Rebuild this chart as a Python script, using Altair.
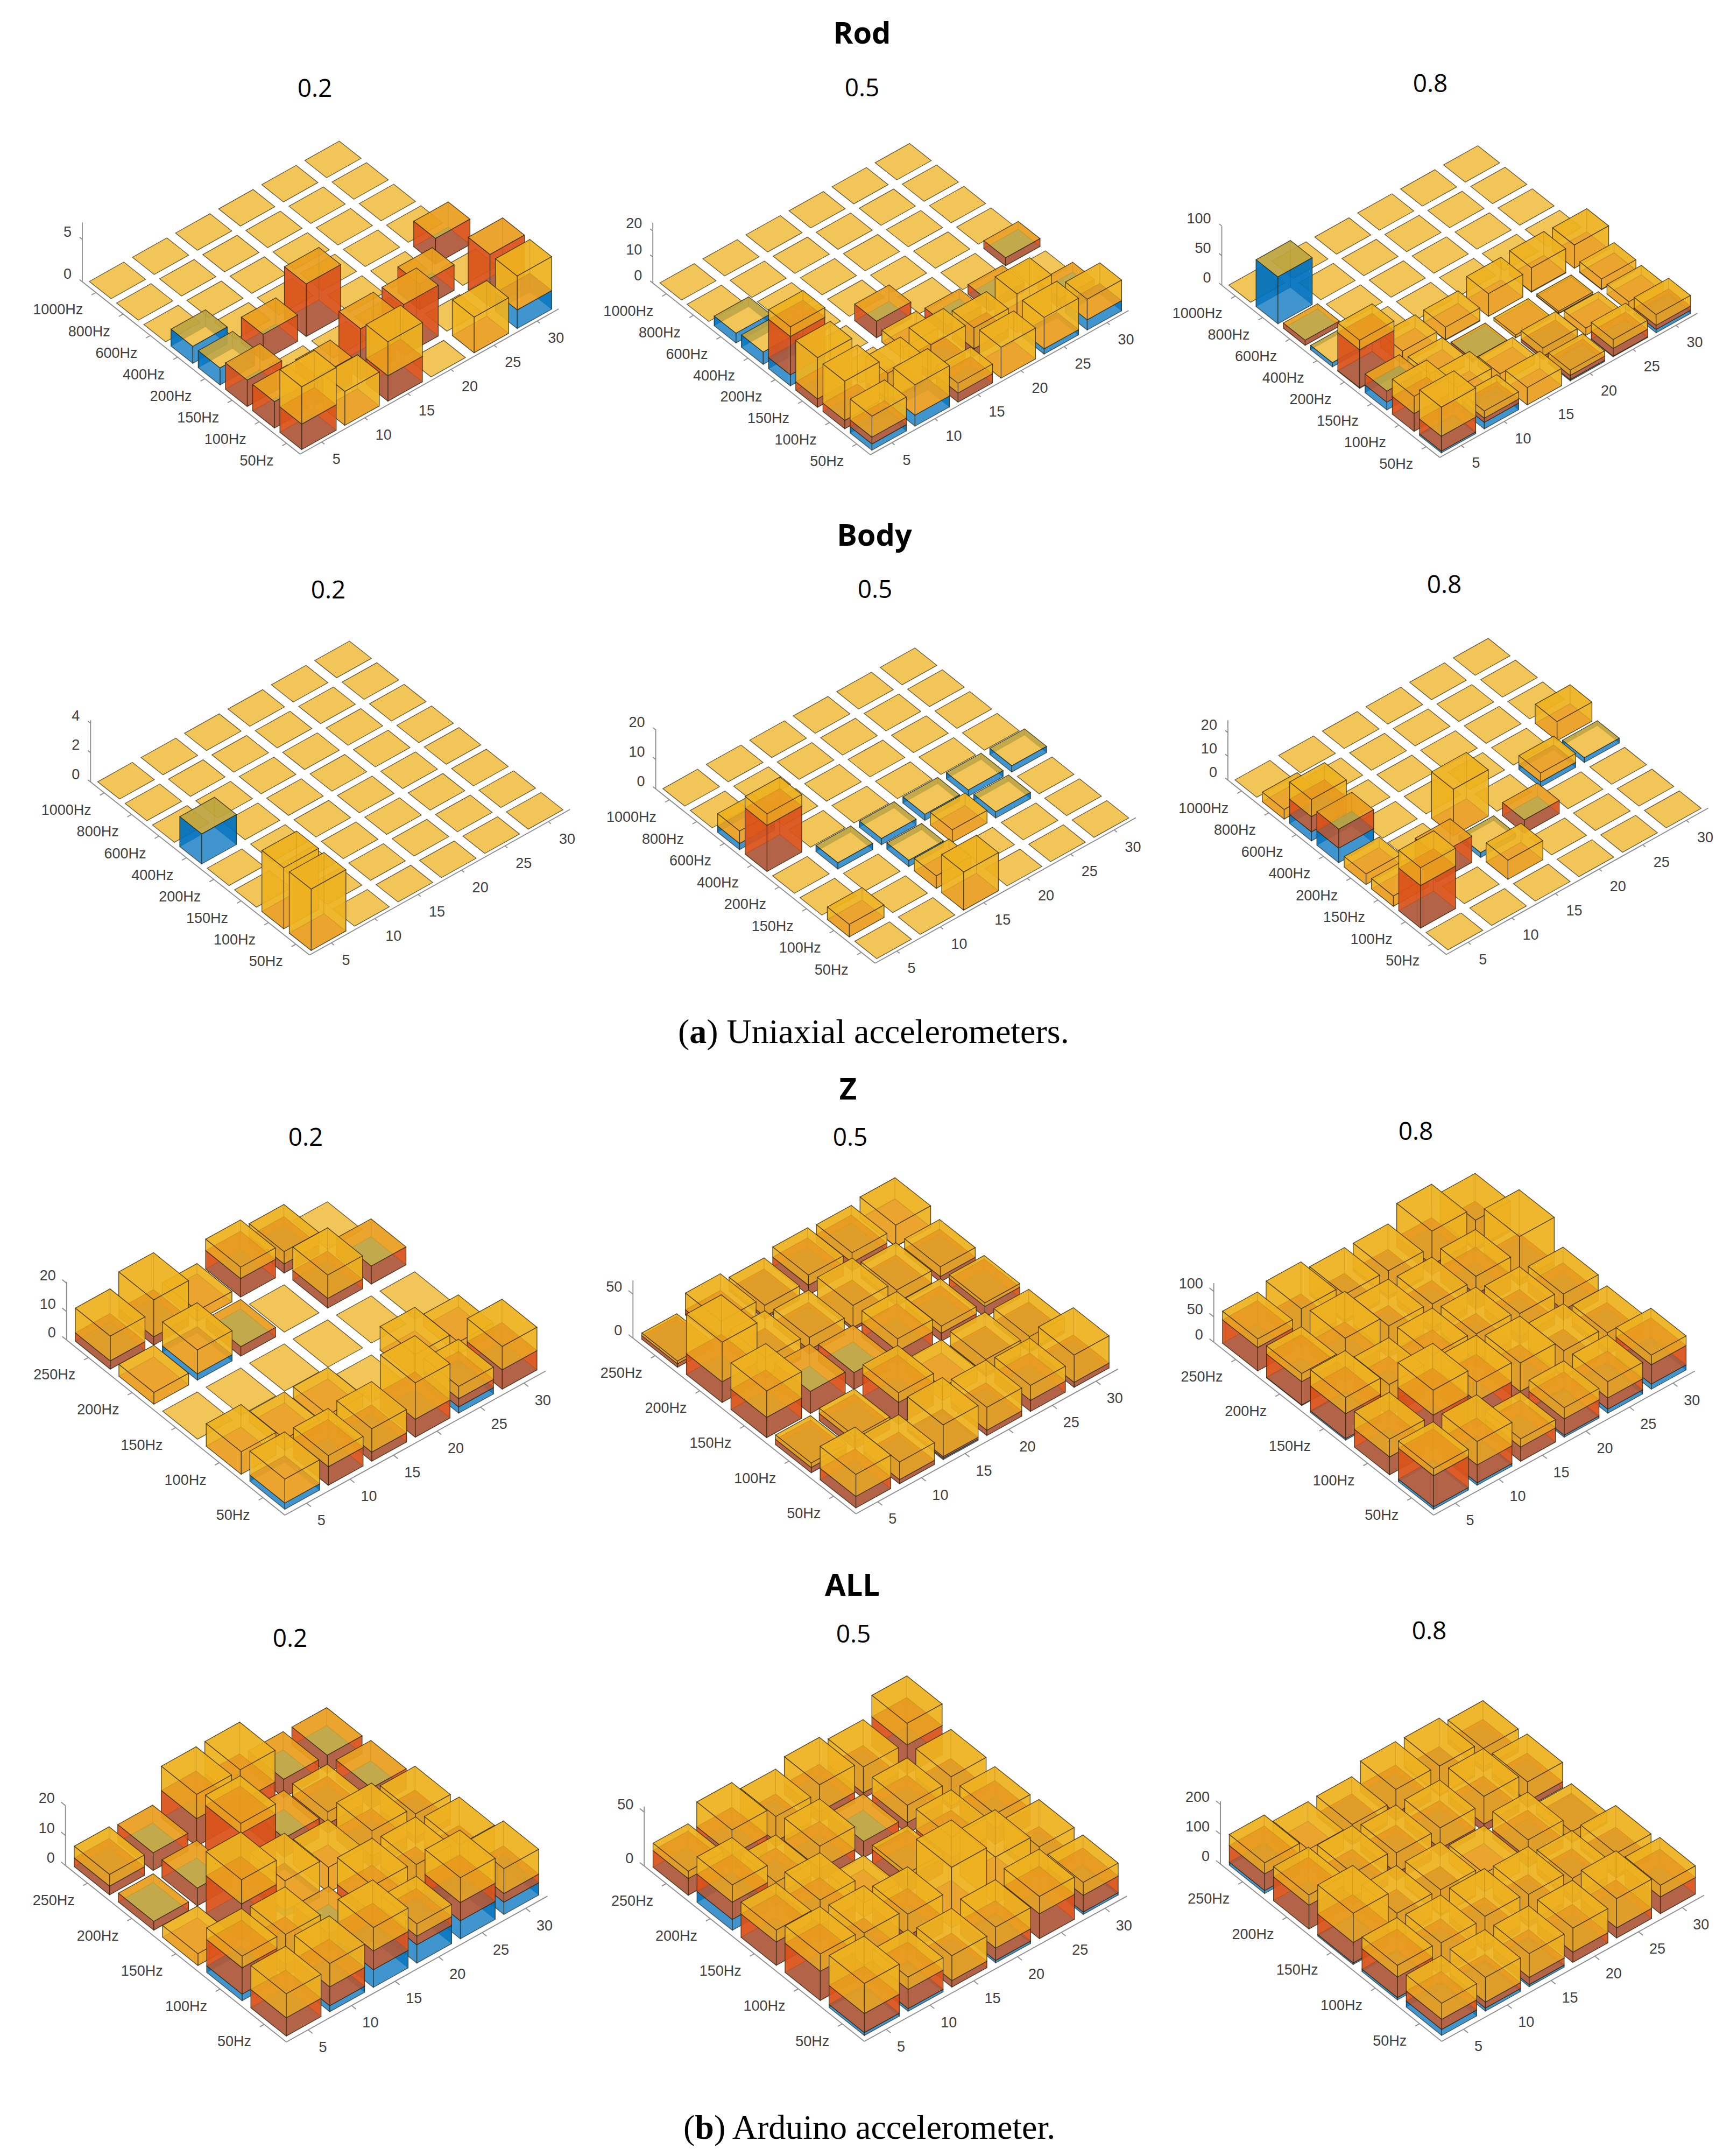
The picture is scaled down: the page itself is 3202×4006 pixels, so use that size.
import altair as alt
import pandas as pd

alt.data_transformers.disable_max_rows()

COLS = ["5", "10", "15", "20", "25", "30"]
ROWS8 = ["50Hz", "100Hz", "150Hz", "200Hz", "400Hz", "600Hz", "800Hz", "1000Hz"]
ROWS5 = ["50Hz", "100Hz", "150Hz", "200Hz", "250Hz"]
BLUE, RED, YELLOW = "#0072BD", "#D95319", "#EDB120"
O = [0, 0, 0, 0, 0, 0]

# series values: rows run from 50Hz upward, columns from 5 to 30
ROD02_B = [[0,0,0,0,0,2.2], O, O, [2,0,0,0,0,0], [2,0,0,0,0,0], O, O, O]
ROD02_R = [[3,0,3,0,0,0], [3.1,3.2,6,6,0,6.2], [3.1,0,0,0,3,0], [0,3.1,6.2,0,0,3], O, O, O, O]
ROD02_Y = [[4.4,4,4,0,4.2,4], O, O, O, O, O, O, O]

ROD05_B = [[2.4,4.2,0,0,2,3.9], O, O, [4.2,0,0,0,0,0], [4.7,0,0,0,0,0], [3.7,0,0,0,0,0], O, O]
ROD05_R = [[2.6,0,3.5,0,0,0], [3.2,2,3,3,0,3.8], [3.2,0,0,3.8,3.6,0], [14.7,0,6.3,0,0,3], O, O, O, O]
ROD05_Y = [[8,11.6,3.7,11.8,12,7.9], [15,10,10.7,8,14.8,0], [15.8,0,4.5,0,0,0], [3.7,0,0,0,0,0], O, O, O, O]

ROD08_B = [[3,11,0,2,1,5.5], O, [13,0,0,0,1,1], [1,0,1,0,1,0], [7,0,0,0,0,0], O, [79,0,0,0,0,0], O]
ROD08_R = [[25,7,0,7,13,7], [30,0,0,5,0,0], [18.5,0,4,0,0,0], [64,0,0,0,0,0], O, [8.5,0,0,0,0,0], O, O]
ROD08_Y = [[49,12,29,9,15,18], [29,33,16,14,12,16], [0,20,0,4.6,3,17], [16,22,21,38,40,39], O, O, O, O]

BODY02_B = [O, O, O, O, [2.04,0,0,0,0,0], O, O, O]
BODY02_R = [O, O, O, O, O, O, O, O]
BODY02_Y = [[4.17,0,0,0,0,0], [4.15,0,0,0,0,0], O, O, O, O, O, O]

BODY05_B = [O, O, [0,0,2.1,0,2.1,0], [0,2.1,2.1,2.1,2.1,2.1], O, [2.1,0,0,0,0,0], O, O]
BODY05_R = [O, O, O, O, [15.6,0,0,0,0,0], O, O, O]
BODY05_Y = [[0,0,12.9,0,0,0], [4.2,0,4.2,0,0,0], [0,0,0,4.2,0,0], O, [3.9,0,0,0,0,0], [4.2,0,0,0,0,0], O, O]

BODY08_B = [O, O, [0,0,2,0,0,0], [0,0,0,0,2.1,2], [6.1,0,0,0,0,0], [3.8,0,0,0,0,0], O, O]
BODY08_R = [O, [17.9,0,0,0,0,0], [0,11,0,5.5,0,0], O, [8,0,0,0,0,0], [6.4,0,0,0,0,0], O, O]
BODY08_Y = [O, [7.5,0,8,0,0,0], [4.3,0,0,0,0,0], [4.4,0,19.5,0,3.7,0], [0,0,0,0,0,8], [7.2,0,0,0,0,0], [4,0,0,0,0,0], O]

Z02_B = [[2.2,0,0,0,2.2,0], O, O, [0,2.2,0,0,0,0], O]
Z02_R = [[0,6.5,3.2,6.3,2.9,6.8], O, O, [0,0,3.3,0,3.4,6.3], [2.9,2.9,0,6.5,3.2,0]]
Z02_Y = [[8.4,3.9,8.2,12.8,4.3,8.2], [7.9,3.9,4,0,8.3,4.2], O, [4.1,8.4,0,0,8.2,0], [8.7,13,3.6,4,4.3,0]]

Z05_B = [[0,0,1.5,0,0,0], O, O, O, [0,0,0,0,0.5,0.5]]
Z05_R = [[13,4.7,2,6,12.5,5.6], [6,8,25,0,3,3], [23,25,19,16,9,12], [23.5,3,5,3,4,6], [4,6,3,11,9,0]]
Z05_Y = [[25,20,36,26,17,31], [5,6,11,15,16,14.5], [30,0,0,14,8,4], [45,20,14,25,14,11], [3,19,12.6,11.5,11,24]]

Z08_B = [[5,5,0,4,8,10], O, [3,0,0,0,0,0], [1,0,0,0,0,0], O]
Z08_R = [[61,35,28,32,22,38], [35,70,50,22,5,10], [49,25,30,15,15,20], [46,25,10,12,30,10], [46,12,5,5,20,5]]
Z08_Y = [[14,46,16,22,32,19], [35,49,38,56,50,33], [32,37,43,52,45,31], [16,60,52,46,35,86], [17,63,51,50,66,55]]

ALL02_B = [[0,2,5.9,6.1,6,4.1], [2.2,0,0,0,0,0], [0,0,2,0,0,0], O, O]
ALL02_R = [[6.1,6.3,6.3,2.9,6.1,2.9], [8.8,4,6,5,3,2], [0,12.4,0,0,4,2], [2.9,5.9,16,6.4,3,6.8], [2.9,5.9,9.2,6.8,6.1,6]]
ALL02_Y = [[8,7.8,7.8,4.1,8.3,8.3], [3.9,10,0,9,10,9.5], [3.9,8.1,10,8.4,8.5,8], [0,0,3.4,0,4,0], [3.9,0,8.1,10.6,0,0]]

ALL05_B = [[2.7,2.4,0,2.2,0,2.2], O, O, [10,0,0,0,0,0], O]
ALL05_R = [[17.6,17.8,6,11.4,23,15.4], [27,10,15,0,0,5], [21.6,15,0,14,10,15], [16,10,12,15,10,3], [15.4,15,5,10,5,27]]
ALL05_Y = [[27.8,11.4,23,19.5,16,12], [16,30,20,56,43,25], [11,23,13,4,19,13], [16,12,21,0,16,27], [6.8,23,23,25,24,20]]

ALL08_B = [[20,10,7,0,0,0], [8,0,0,0,0,0], [5,0,0,0,0,0], O, [10,0,0,0,0,0]]
ALL08_R = [[34,20,24,34,34,56], [69,30,20,15,20,10], [69,10,5,0,30,5], [80,25,25,25,25,20], [56,0,10,25,5,15]]
ALL08_Y = [[54,83,80,81,98,39], [39,80,97,94,61,73], [98,80,82,60,61,32], [34,80,67,69,93,65], [37,66,58,79,96,63]]

# layout of each panel, read in crop coordinates: crop box, front corner, left corner, right corner,
# z-axis top, pixels per z unit, z tick values, title position
PANELS = [
    ((0,0,1100,900),     (795,1470),(218,912),(1480,1000),720,27.4,[0,5],    "0.2",(585,166), ROD02_B,ROD02_R,ROD02_Y,ROWS8),
    ((1080,100,1060,800),(795,1460),(197,835),(1505,935), 615,9.5, [0,10,20],"0.5",(1602,165),ROD05_B,ROD05_R,ROD05_Y,ROWS8),
    ((2150,100,1050,800),(785,1470),(180,843),(1500,945), 628,2.16,[0,50,100],"0.8",(2658,157),ROD08_B,ROD08_R,ROD08_Y,ROWS8),
    ((0,1050,1100,800),  (820,1420),(240,790),(1510,890), 565,53.5,[0,2,4],  "0.2",(610,1098),BODY02_B,BODY02_R,BODY02_Y,ROWS8),
    ((1080,1050,1060,800),(808,1450),(205,815),(1525,920),598,10.75,[0,10,20],"0.5",(1626,1097),BODY05_B,BODY05_R,BODY05_Y,ROWS8),
    ((2150,1050,1050,800),(803,1418),(197,783),(1530,885),565,8.65,[0,10,20],"0.8",(2684,1088),BODY08_B,BODY08_R,BODY08_Y,ROWS8),
    ((0,2050,1060,800),  (783,1500),(183,862),(1500,975), 650,10.35,[0,10,20],"0.2",(568,2115),Z02_B,Z02_R,Z02_Y,ROWS5),
    ((1060,2050,1060,800),(785,1495),(172,855),(1505,968),645,3.2, [0,50],   "0.5",(1580,2115),Z05_B,Z05_R,Z05_Y,ROWS5),
    ((2120,2050,1080,800),(790,1500),(197,870),(1495,975),655,1.85,[0,50,100],"0.8",(2631,2104),Z08_B,Z08_R,Z08_Y,ROWS5),
    ((0,3000,1060,850),  (787,1465),(180,860),(1505,965), 655,10.25,[0,10,20],"0.2",(539,3046),ALL02_B,ALL02_R,ALL02_Y,ROWS5),
    ((1060,3000,1060,850),(808,1463),(203,862),(1530,965),658,3.7, [0,50],   "0.5",(1586,3038),ALL05_B,ALL05_R,ALL05_Y,ROWS5),
    ((2120,3000,1080,850),(812,1463),(215,855),(1520,962),640,1.02,[0,100,200],"0.8",(2656,3032),ALL08_B,ALL08_R,ALL08_Y,ROWS5),
]
HEADERS = [("Rod",1602,64),("Body",1625,997),("Z",1576,2026),("ALL",1584,2948)]
W, H = 3186, 3990
BAR = 0.8
OFF = 8

features, rules, ticklabels_r, ticklabels_l, titles = [], [], [], [], []


def add_poly(pts, fill, edge):
    ring = [[float(x), float(y)] for x, y in pts] + [[float(pts[0][0]), float(pts[0][1])]]
    features.append({"type": "Feature", "properties": {"fill": fill, "edge": edge},
                     "geometry": {"type": "Polygon", "coordinates": [ring]}})


for crop, Fz, Lz, Rz, ztopz, unitz, zticks, title, tpos, B, Rd, Y, rowlabels in PANELS:
    x0, y0, cw, ch = crop
    kx, ky = 1568 / cw, 1568 / ch
    conv = lambda p: (x0 + p[0] / kx - OFF, y0 + p[1] / ky - OFF)
    F, L, R = conv(Fz), conv(Lz), conv(Rz)
    nr, nc = len(rowlabels), len(COLS)
    u = ((R[0] - F[0]) / nc, (R[1] - F[1]) / nc)
    v = ((L[0] - F[0]) / nr, (L[1] - F[1]) / nr)
    unit = unitz / ky
    ztop = y0 + ztopz / ky - OFF
    proj = lambda c, r, z: (F[0] + c * u[0] + r * v[0], F[1] + c * u[1] + r * v[1] - z * unit)

    rules.append(dict(x1=F[0], y1=F[1], x2=L[0], y2=L[1]))
    rules.append(dict(x1=F[0], y1=F[1], x2=R[0], y2=R[1]))
    rules.append(dict(x1=L[0], y1=L[1], x2=L[0], y2=ztop))
    for i, lab in enumerate(rowlabels):
        a = proj(0, i + 0.5, 0)
        rules.append(dict(x1=a[0], y1=a[1], x2=a[0] - 0.1 * u[0], y2=a[1] - 0.1 * u[1]))
        ticklabels_r.append(dict(x=a[0] - 24, y=a[1] + 33, t=lab))
    for i, lab in enumerate(COLS):
        a = proj(i + 0.5, 0, 0)
        rules.append(dict(x1=a[0], y1=a[1], x2=a[0] - 0.1 * v[0], y2=a[1] - 0.1 * v[1]))
        ticklabels_l.append(dict(x=a[0] + 20, y=a[1] + 33, t=lab))
    for zt in zticks:
        a = proj(0, nr, zt)
        rules.append(dict(x1=a[0], y1=a[1], x2=a[0] + 0.1 * v[0], y2=a[1] + 0.1 * v[1]))
        ticklabels_r.append(dict(x=a[0] - 20, y=a[1] - 13, t=str(zt)))
    titles.append(dict(x=tpos[0] - OFF, y=tpos[1] - OFF, t=title))

    for r in range(nr - 1, -1, -1):
        for c in range(nc - 1, -1, -1):
            c0, c1 = c + 0.1, c + 0.1 + BAR
            r0, r1 = r + 0.1, r + 0.1 + BAR
            vals = [B[r][c], Rd[r][c], Y[r][c]]
            cols = [BLUE, RED, YELLOW]
            levels, z = [], 0.0
            for val in vals:
                levels.append((z, z + val))
                z += val
            # back walls
            for (a, b), col in zip(levels, cols):
                if b > a:
                    add_poly([proj(c0, r1, a), proj(c1, r1, a), proj(c1, r1, b), proj(c0, r1, b)], col, 0.35)
                    add_poly([proj(c1, r0, a), proj(c1, r1, a), proj(c1, r1, b), proj(c1, r0, b)], col, 0.35)
            # horizontal faces, one per level, the last series winning on a shared level
            tops = {}
            for (a, b), col in zip(levels, cols):
                tops[b] = col
            top_level = max(tops)
            for zz in sorted(tops):
                add_poly([proj(c0, r0, zz), proj(c1, r0, zz), proj(c1, r1, zz), proj(c0, r1, zz)],
                         tops[zz], 0.72 if zz == top_level else 0.4)
            # front walls
            for (a, b), col in zip(levels, cols):
                if b > a:
                    add_poly([proj(c0, r0, a), proj(c1, r0, a), proj(c1, r0, b), proj(c0, r0, b)], col, 0.72)
                    add_poly([proj(c0, r0, a), proj(c0, r1, a), proj(c0, r1, b), proj(c0, r0, b)], col, 0.72)

XS = dict(scale=None, axis=None)


def text_layer(rows, font, size, align="center", weight="normal", color="#000000"):
    return alt.Chart(pd.DataFrame(rows)).mark_text(
        font=font, fontSize=size, align=align, baseline="middle", fontWeight=weight, color=color
    ).encode(x=alt.X("x:Q", **XS), y=alt.Y("y:Q", **XS), text="t:N")


bars = alt.Chart(alt.InlineData(values={"type": "FeatureCollection", "features": features},
                                format=alt.DataFormat(property="features", type="json"))).mark_geoshape(
    fillOpacity=0.75, stroke="#2a2410", strokeWidth=1.3
).encode(
    fill=alt.Fill("properties.fill:N", scale=None, legend=None),
    strokeOpacity=alt.StrokeOpacity("properties.edge:Q", scale=None, legend=None),
).project(type="identity", scale=1, translate=[0, 0])

axes = alt.Chart(pd.DataFrame(rules)).mark_rule(color="#8c8c8c", strokeWidth=1.8).encode(
    x=alt.X("x1:Q", **XS), y=alt.Y("y1:Q", **XS), x2="x2:Q", y2="y2:Q")

CAP = 64
cap_a = (1260 - OFF, 1919 - OFF)
cap_b = (1270 - OFF, 3955 - OFF)
caption_reg = [
    dict(x=cap_a[0], y=cap_a[1], t="("),
    dict(x=cap_a[0] + 0.833 * CAP, y=cap_a[1], t=") Uniaxial accelerometers."),
    dict(x=cap_b[0], y=cap_b[1], t="("),
    dict(x=cap_b[0] + 0.889 * CAP, y=cap_b[1], t=") Arduino accelerometer."),
]
caption_bold = [
    dict(x=cap_a[0] + 0.333 * CAP, y=cap_a[1], t="a"),
    dict(x=cap_b[0] + 0.333 * CAP, y=cap_b[1], t="b"),
]

chart = alt.layer(
    axes,
    bars,
    text_layer(ticklabels_r, "Liberation Sans", 27, "right", color="#404040"),
    text_layer(ticklabels_l, "Liberation Sans", 27, "left", color="#404040"),
    text_layer(titles, "Open Sans", 46),
    text_layer([dict(x=x - OFF, y=y - OFF, t=t) for t, x, y in HEADERS], "Open Sans", 56, weight="bold"),
    text_layer(caption_reg, "Liberation Serif", CAP, "left"),
    text_layer(caption_bold, "Liberation Serif", CAP, "left", weight="bold"),
).properties(width=W, height=H, padding=0, background="white",
             autosize=alt.AutoSizeParams(type="none")).configure_view(stroke=None)

chart.save("out.html", embed_options={"renderer": "svg", "actions": False})
